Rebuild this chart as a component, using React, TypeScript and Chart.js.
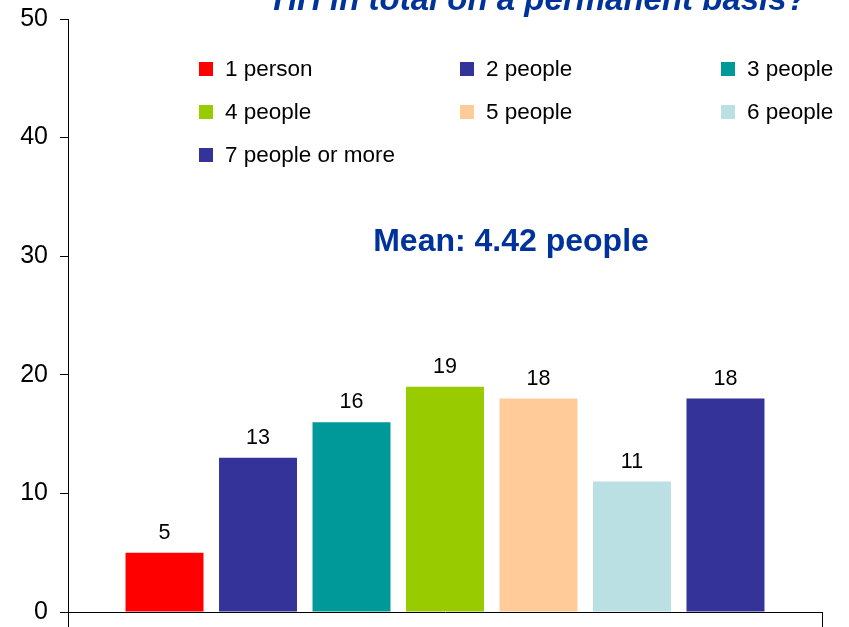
import { useEffect, useRef } from 'react';
import { Chart, registerables } from 'chart.js';

Chart.register(...registerables);

const categories = [''];
const seriesLabels = ['1 person', '2 people', '3 people', '4 people', '5 people', '6 people', '7 people or more'];
const seriesValues = [5, 13, 16, 19, 18, 11, 18];
const seriesColors = ['#FF0000', '#333399', '#009999', '#99CC00', '#FFCC99', '#BBE0E3', '#333399'];
const yTickValues = [0, 10, 20, 30, 40, 50];
const titleText = 'HH in total on a permanent basis?';
const meanText = 'Mean: 4.42 people';

const FONT = '"Liberation Sans", Arial, sans-serif';

const overlayPlugin = {
  id: 'overlay',
  afterDatasetsDraw(chart: any) {
    const ctx = chart.ctx;
    ctx.save();
    ctx.fillStyle = '#000';
    ctx.font = `21.5px ${FONT}`;
    ctx.textAlign = 'center';
    ctx.textBaseline = 'alphabetic';
    chart.data.datasets.forEach((ds: any, i: number) => {
      const el = chart.getDatasetMeta(i).data[0];
      if (!el) return;
      ctx.fillText(String(ds.data[0]), el.x, el.y - 14);
    });
    ctx.restore();
  },
  afterDraw(chart: any) {
    const ctx = chart.ctx;
    const area = chart.chartArea;
    ctx.save();
    // title (partially cut at top)
    ctx.fillStyle = '#003399';
    ctx.font = `italic bold 33px ${FONT}`;
    ctx.textAlign = 'center';
    ctx.textBaseline = 'alphabetic';
    ctx.fillText(titleText, 540, 10);
    // mean
    ctx.font = `bold 32px ${FONT}`;
    ctx.fillText(meanText, 511, 251);
    // legend
    const colX = [131, 392, 653];
    const rowY = [50, 93, 136];
    ctx.font = `22.5px ${FONT}`;
    ctx.textAlign = 'left';
    ctx.textBaseline = 'middle';
    chart.data.datasets.forEach((ds: any, i: number) => {
      const cx = area.left + colX[i % 3];
      const cy = area.top + rowY[Math.floor(i / 3)];
      ctx.fillStyle = ds.backgroundColor;
      ctx.fillRect(cx, cy - 7, 14, 14);
      ctx.fillStyle = '#000';
      ctx.fillText(ds.label, cx + 26, cy + 1);
    });
    ctx.restore();
  },
};

export default function App() {
  const canvasRef = useRef<HTMLCanvasElement | null>(null);

  useEffect(() => {
    document.body.style.margin = '0';
    const canvas = canvasRef.current;
    if (!canvas) return;
    const chart = new Chart(canvas, {
      type: 'bar',
      data: {
        labels: categories,
        datasets: seriesLabels.map((label, i) => ({
          label,
          data: [seriesValues[i]],
          backgroundColor: seriesColors[i],
          borderWidth: 0,
          categoryPercentage: 0.868,
          barPercentage: 0.834,
        })),
      },
      options: {
        responsive: false,
        animation: false,
        layout: { padding: { top: 19, right: 27, left: 0, bottom: 0 } },
        plugins: {
          legend: { display: false },
          tooltip: { enabled: false },
          title: { display: false },
        },
        scales: {
          x: {
            type: 'category',
            grid: {
              offset: true,
              drawOnChartArea: false,
              tickLength: 15,
              color: '#000',
              lineWidth: 1,
            },
            border: { color: '#000', width: 1 },
            ticks: { display: false },
            afterFit(scale: any) {
              scale.height = 15;
              scale.paddingLeft = 0;
              scale.paddingRight = 0;
            },
          },
          y: {
            min: 0,
            max: 50,
            afterBuildTicks(scale: any) {
              scale.ticks = yTickValues.map((v) => ({ value: v }));
            },
            ticks: {
              color: '#000',
              font: { family: FONT, size: 25 },
              padding: 12,
            },
            grid: {
              drawOnChartArea: false,
              tickLength: 8,
              color: '#000',
              lineWidth: 1,
            },
            border: { color: '#000', width: 1 },
            afterFit(scale: any) {
              scale.width = 68;
              scale.paddingTop = 0;
              scale.paddingBottom = 0;
            },
          },
        },
      },
      plugins: [overlayPlugin],
    } as any);
    return () => chart.destroy();
  }, []);

  return (
    <div style={{ width: 849, height: 627 }}>
      <canvas ref={canvasRef} width={849} height={627} style={{ display: 'block' }} />
    </div>
  );
}
